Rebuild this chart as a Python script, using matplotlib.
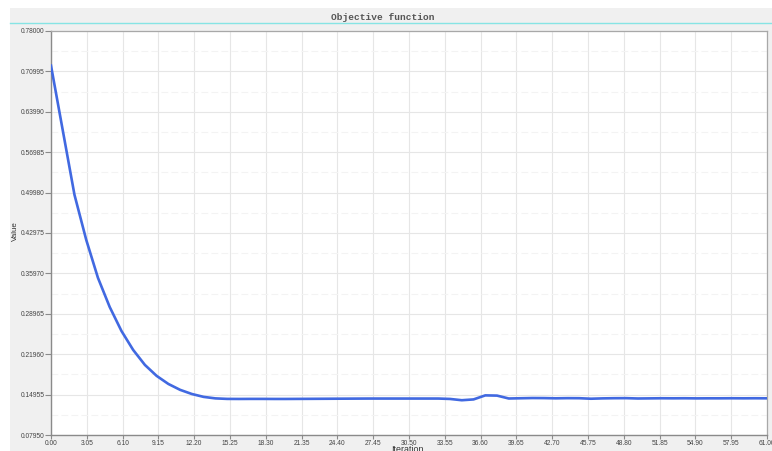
import numpy as np
import matplotlib
matplotlib.use("Agg")
import matplotlib.pyplot as plt
from matplotlib.patches import Rectangle
from matplotlib.lines import Line2D
from matplotlib.ticker import FixedLocator, FormatStrFormatter

# objective value per iteration
iterations = list(range(0, 62))
values = [
    0.7200, 0.6080, 0.4960, 0.4180, 0.3520, 0.3015, 0.2600, 0.2270, 0.2010, 0.1820,
    0.1680, 0.1578, 0.1506, 0.1456, 0.1430, 0.1421, 0.1420, 0.1421, 0.1421, 0.1420,
    0.1420, 0.1421, 0.1422, 0.1423, 0.1424, 0.1425, 0.1426, 0.1427, 0.1427, 0.1427,
    0.1427, 0.1427, 0.1427, 0.1427, 0.1420, 0.1398, 0.1412, 0.1482, 0.1478, 0.1428,
    0.1432, 0.1436, 0.1435, 0.1431, 0.1434, 0.1433, 0.1424, 0.1430, 0.1433, 0.1434,
    0.1428, 0.1430, 0.1432, 0.1431, 0.1432, 0.1430, 0.1431, 0.1431, 0.1432, 0.1431,
    0.1432, 0.1431,
]

x_ticks = [round(3.05 * i, 2) for i in range(21)]
y_ticks = [0.07950, 0.14955, 0.21960, 0.28965, 0.35970, 0.42975,
           0.49980, 0.56985, 0.63990, 0.70995, 0.78000]

W, H = 772, 451
fig = plt.figure(figsize=(W / 100, H / 100), dpi=100)
fig.patch.set_facecolor("white")

# grey panel behind everything, with the cyan rule under the title
fig.patches.append(Rectangle((10 / W, 0), 1, (H - 8) / H, transform=fig.transFigure,
                             facecolor="#f0f0f0", edgecolor="none", zorder=-10))
fig.lines.append(Line2D([10 / W, 1], [(H - 23.3) / H] * 2, transform=fig.transFigure,
                        color="#86e4e4", lw=1.0))
fig.text(383 / W, (H - 18) / H, "Objective function", ha="center", va="center",
         family="Liberation Mono", fontweight="bold", fontsize=6.8, color="#555555")

ax = fig.add_axes([51 / W, (H - 435) / H, 716 / W, 404 / H])
ax.set_facecolor("white")
ax.plot(iterations, values, color="#4169e1", lw=1.9, solid_joinstyle="round", zorder=3)

ax.set_xlim(0, 61)
ax.set_ylim(0.0795, 0.78)
ax.xaxis.set_major_locator(FixedLocator(x_ticks))
ax.yaxis.set_major_locator(FixedLocator(y_ticks))
ax.yaxis.set_minor_locator(FixedLocator([v + 0.035025 for v in y_ticks[:-1]]))
ax.xaxis.set_major_formatter(FormatStrFormatter("%.2f"))
ax.yaxis.set_major_formatter(FormatStrFormatter("%.5f"))

ax.grid(True, which="major", color="#e6e6e6", lw=0.8)
ax.grid(True, which="minor", axis="y", color="#f3f3f3", lw=0.8, ls=(0, (6, 3)))
ax.set_axisbelow(True)

for side in ["left", "bottom"]:
    ax.spines[side].set_color("#8a8a8a")
    ax.spines[side].set_linewidth(1.0)
for side in ["top", "right"]:
    ax.spines[side].set_color("#a8a8a8")
    ax.spines[side].set_linewidth(0.9)

ax.tick_params(which="major", width=0.8, color="#8a8a8a", labelsize=4.8,
               labelcolor="#444444")
ax.tick_params(axis="y", which="major", length=4, pad=0.8)
ax.tick_params(axis="x", which="major", length=3, pad=0.5)
ax.tick_params(which="minor", length=0)
for lab in ax.get_xticklabels() + ax.get_yticklabels():
    lab.set_family("Liberation Sans")

fig.text(15 / W, (H - 231) / H, "Value", rotation=90, ha="center", va="center",
         family="Liberation Sans", fontsize=5.8, color="#333333")
fig.text(407 / W, (H - 445) / H, "Iteration", ha="center", va="top",
         family="Liberation Sans", fontsize=6.4, color="#333333")

fig.savefig("out.png", dpi=100)
